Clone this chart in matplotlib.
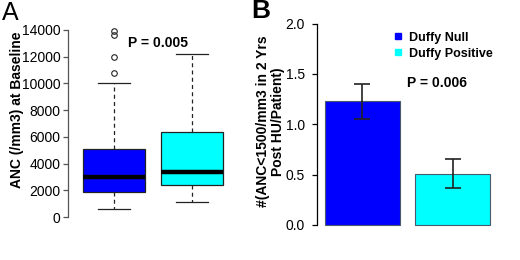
import matplotlib
matplotlib.use('Agg')
import matplotlib.pyplot as plt
from matplotlib.lines import Line2D

plt.rcParams['font.family'] = ['Liberation Sans', 'DejaVu Sans']

# Panel A: baseline ANC box plot
groups = ['Duffy Null', 'Duffy Positive']
colors = ['#0000ff', '#00ffff']
q1 = [1900, 2400]
medians = [3000, 3400]
q3 = [5100, 6400]
whisker_lo = [600, 1100]
whisker_hi = [10000, 12200]
outliers = [[10800, 12000, 13600, 13900], []]
a_ticks = [0, 2000, 4000, 6000, 8000, 10000, 12000, 14000]

# Panel B: events per patient, mean with error bar
bar_means = [1.23, 0.51]
err_lo = [1.05, 0.37]
err_hi = [1.40, 0.65]
b_ticks = [0.0, 0.5, 1.0, 1.5, 2.0]

W, H = 520, 260
fig = plt.figure(figsize=(W / 100, H / 100), dpi=100)


def px_axes(x0, y0, x1, y1):
    # axes placed by pixel box (top-left origin)
    return fig.add_axes([x0 / W, 1 - y1 / H, (x1 - x0) / W, (y1 - y0) / H])


def r_style(ax, lo, hi, col, pad, offset):
    for s in ['top', 'right', 'bottom']:
        ax.spines[s].set_visible(False)
    ax.spines['left'].set_bounds(lo, hi)
    ax.spines['left'].set_position(('outward', offset))
    ax.spines['left'].set_color(col)
    ax.spines['left'].set_linewidth(0.9)
    ax.set_xticks([])
    ax.tick_params(axis='y', length=3.6, width=0.9, pad=pad, color=col)


# ---- panel A
axA = px_axes(75.1, 22.5, 230.6, 224.5)
stats = []
for i in range(2):
    stats.append(dict(q1=q1[i], med=medians[i], q3=q3[i], whislo=whisker_lo[i],
                      whishi=whisker_hi[i], fliers=outliers[i]))
bp = axA.bxp(stats, positions=[1, 2], widths=0.8, capwidths=0.41, patch_artist=True,
             boxprops=dict(edgecolor='#222222', linewidth=0.9),
             medianprops=dict(color='black', linewidth=3.2, solid_capstyle='butt'),
             whiskerprops=dict(color='#222222', linewidth=0.9, linestyle=(0, (3.2, 2.6))),
             capprops=dict(color='#222222', linewidth=0.9),
             flierprops=dict(marker='o', markerfacecolor='none', markeredgecolor='#222222',
                             markersize=4, markeredgewidth=0.8))
for patch, c in zip(bp['boxes'], colors):
    patch.set_facecolor(c)
axA.set_xlim(0.5, 2.5)
axA.set_ylim(-560, 14560)
axA.set_yticks(a_ticks)
axA.set_yticklabels([str(t) for t in a_ticks], fontsize=8.5)
r_style(axA, 0, 14000, '#555555', 2, 5)
axA.text(1.566, 13026, 'P = 0.005', ha='center', va='center', fontsize=10, fontweight='bold')

fig.text(17 / W, 1 - 110 / H, 'ANC (/mm3) at Baseline', rotation=90, ha='center', va='center',
         fontsize=10, fontweight='bold')
fig.text(10 / W, 1 - 13.5 / H, 'A', ha='center', va='center', fontsize=18)

# ---- panel B
axB = px_axes(316.5, 15.5, 497, 233)
pos = [0.7, 1.9]
axB.bar(pos, bar_means, width=1.0, color=colors, edgecolor='#4a5a6a', linewidth=0.8)
yerr = [[m - lo for m, lo in zip(bar_means, err_lo)],
        [hi - m for m, hi in zip(bar_means, err_hi)]]
axB.errorbar(pos, bar_means, yerr=yerr, fmt='none', ecolor='#222222', elinewidth=1.2,
             capsize=6.1, capthick=1.2)
axB.set_xlim(0.093, 2.488)
axB.set_ylim(-0.08, 2.08)
axB.set_yticks(b_ticks)
axB.set_yticklabels([f'{t:.1f}' for t in b_ticks], fontsize=8, fontweight='bold')
r_style(axB, 0, 2, 'black', 4.7, 0)

handles = [Line2D([], [], marker='s', linestyle='none', markerfacecolor=c, markeredgecolor=c,
                  markersize=5) for c in colors]
fig.legend(handles, groups, loc='upper left', bbox_to_anchor=(393 / W, 1 - 31.5 / H),
           frameon=False, prop=dict(weight='bold', size=9), handlelength=0.8,
           handletextpad=0.5, labelspacing=0.32, borderpad=0, borderaxespad=0)
fig.text(436.7 / W, 1 - 83.3 / H, 'P = 0.006', ha='center', va='center', fontsize=10,
         fontweight='bold')

fig.text(270.5 / W, 1 - 121.5 / H, '#(ANC<1500/mm3 in 2 Yrs\nPost HU/Patient)', rotation=90,
         ha='center', va='center', multialignment='center', fontsize=10, fontweight='bold',
         linespacing=1.1)
fig.text(261 / W, 1 - 11 / H, 'B', ha='center', va='center', fontsize=19, fontweight='bold')

fig.savefig('out.png', dpi=100)
